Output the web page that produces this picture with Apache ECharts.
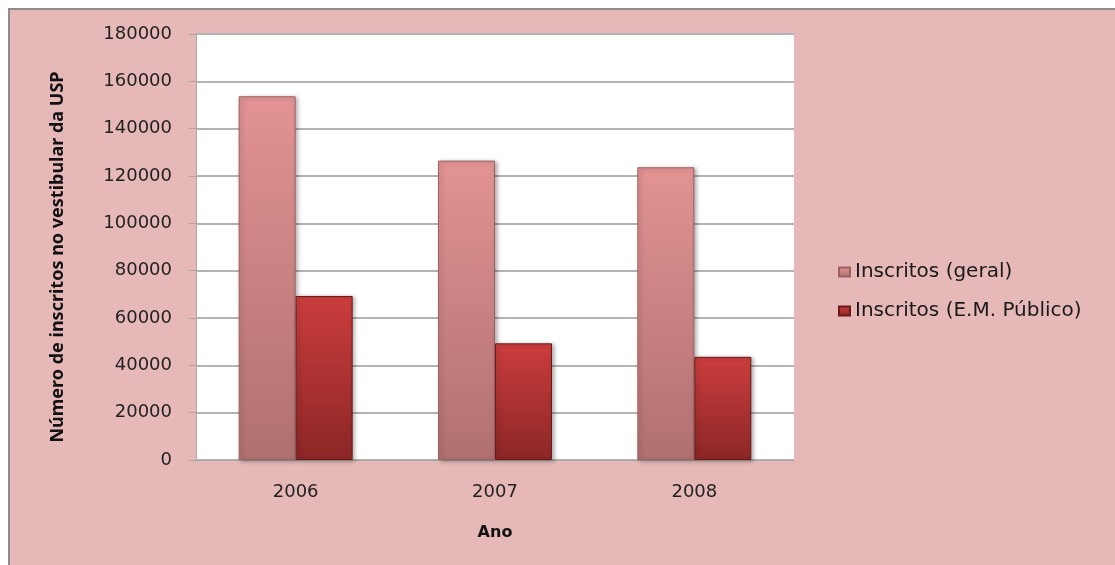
<!DOCTYPE html>
<html>
<head>
<meta charset="utf-8">
<script src="https://cdn.jsdelivr.net/npm/echarts@6/dist/echarts.min.js"></script>
<style>
html,body{margin:0;padding:0;background:#ffffff;}
#chart{width:1115px;height:565px;}
</style>
</head>
<body>
<div id="chart"></div>
<script>
var categories = ['2006', '2007', '2008'];
var seriesNames = ['Inscritos (geral)', 'Inscritos (E.M. Público)'];
var geral = [153700, 126500, 123700];
var publico = [69300, 49300, 43600];
var yMin = 0, yMax = 180000, yStep = 20000;
var yTitle = 'Número de inscritos no vestibular da USP';
var xTitle = 'Ano';

var chart = echarts.init(document.getElementById('chart'), null, {renderer: 'canvas'});

function grad(top, bottom) {
  return new echarts.graphic.LinearGradient(0, 0, 0, 1, [
    {offset: 0, color: top},
    {offset: 1, color: bottom}
  ]);
}

var option = {
  backgroundColor: '#ffffff',
  animation: false,
  graphic: [{
    type: 'rect',
    z: -100,
    silent: true,
    shape: {x: 9, y: 9, width: 1200, height: 700},
    style: {fill: '#E6B8B7', stroke: '#8C8C8C', lineWidth: 2}
  }],
  grid: {
    left: 196, right: 321, top: 34, bottom: 105,
    show: true, backgroundColor: '#ffffff', borderWidth: 0
  },
  legend: {
    orient: 'vertical',
    left: 833, top: 256,
    itemWidth: 11, itemHeight: 9, itemGap: 17,
    icon: 'rect',
    textStyle: {fontFamily: 'DejaVu Sans', fontSize: 20, color: '#1a1a1a', lineHeight: 22},
    data: seriesNames
  },
  xAxis: {
    type: 'category',
    data: categories,
    name: xTitle,
    nameLocation: 'middle',
    nameGap: 65,
    nameTextStyle: {fontFamily: 'DejaVu Sans', fontWeight: 'bold', fontSize: 16, color: '#111'},
    axisLine: {show: true, lineStyle: {color: '#A6A6A6', width: 1}},
    axisTick: {show: false},
    axisLabel: {fontFamily: 'DejaVu Sans', fontSize: 18, color: '#222', margin: 23}
  },
  yAxis: {
    type: 'value',
    min: yMin, max: yMax, interval: yStep,
    name: yTitle,
    nameLocation: 'middle',
    nameRotate: 90,
    nameGap: 129,
    nameTextStyle: {fontFamily: "'Liberation Sans Narrow', 'Noto Sans'", fontWeight: 'bold', fontSize: 18, color: '#111', padding: [0, 20, 0, 0]},
    axisLine: {show: true, lineStyle: {color: '#A6A6A6', width: 1}},
    axisTick: {show: true, inside: false, length: 7, lineStyle: {color: '#A6A6A6'}},
    axisLabel: {fontFamily: 'DejaVu Sans', fontSize: 18, color: '#222', margin: 24, formatter: function (v) { return String(v); }},
    splitLine: {show: true, lineStyle: {color: '#B3B3B3', width: 2}}
  },
  series: [
    {
      name: seriesNames[0],
      type: 'bar',
      data: geral,
      barWidth: 57,
      barGap: '0%',
      itemStyle: {
        color: grad('#E39393', '#B07070'),
        borderColor: '#9C6262', borderWidth: 1,
        shadowColor: 'rgba(0,0,0,0.3)', shadowBlur: 4, shadowOffsetX: 2, shadowOffsetY: 1
      }
    },
    {
      name: seriesNames[1],
      type: 'bar',
      data: publico,
      barWidth: 57,
      barGap: '0%',
      itemStyle: {
        color: grad('#CB3D3D', '#8C2626'),
        borderColor: '#6B1A1A', borderWidth: 1,
        shadowColor: 'rgba(0,0,0,0.3)', shadowBlur: 4, shadowOffsetX: 2, shadowOffsetY: 1
      }
    }
  ]
};
chart.setOption(option);
</script>
</body>
</html>
